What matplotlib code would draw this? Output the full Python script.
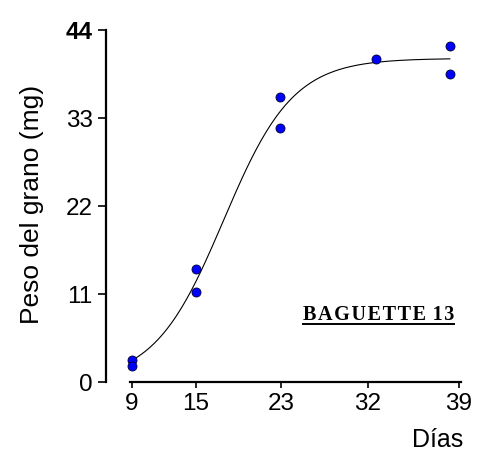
import numpy as np
import matplotlib
matplotlib.use('Agg')
import matplotlib.pyplot as plt
from matplotlib.lines import Line2D

# observed grain weights
dias = [9, 9, 15, 15, 23, 23, 32, 39, 39]
peso = [2.8, 2.0, 14.1, 11.2, 35.6, 31.8, 40.4, 42.0, 38.5]

x_ticks = [9, 15, 23.1, 31.25, 39.85]
x_labels = ['9', '15', '23', '32', '39']
y_ticks = [0, 11, 22, 33, 44]
y_labels = ['0', '11', '22', '33', '44']


def fit_logistic(x, y):
    # grid search on k and x0, A solved by least squares
    x = np.asarray(x, float)
    y = np.asarray(y, float)
    best = None
    for k in np.linspace(0.1, 0.8, 141):
        for x0 in np.linspace(12, 25, 261):
            f = 1.0 / (1.0 + np.exp(-k * (x - x0)))
            a = f.dot(y) / f.dot(f)
            sse = np.sum((y - a * f) ** 2)
            if best is None or sse < best[0]:
                best = (sse, a, k, x0)
    return best[1:]


a, k, x0 = fit_logistic(dias, peso)
xc = np.linspace(9, 39, 200)
yc = a / (1.0 + np.exp(-k * (xc - x0)))

plt.rcParams['font.family'] = ['Liberation Sans', 'DejaVu Sans']

fig = plt.figure(figsize=(4.78, 4.57), dpi=100)
ax = fig.add_axes([0.2218, 0.1641, 0.748, 0.779])

ax.plot(xc, yc, color='black', linewidth=0.8)
ax.plot(dias, peso, 'o', markersize=6.5, markerfacecolor='#0000ff',
        markeredgecolor='#000033', markeredgewidth=0.6, linestyle='none')

ax.set_xlim(6.55, 40.3)
ax.set_ylim(0, 44.5)
ax.spines['top'].set_visible(False)
ax.spines['right'].set_visible(False)
ax.spines['left'].set_linewidth(1.6)
ax.spines['bottom'].set_linewidth(1.6)
ax.spines['left'].set_bounds(0, 44)
ax.spines['bottom'].set_bounds(8.8, 40.1)

ax.set_xticks(x_ticks)
ax.set_xticklabels(x_labels)
ax.set_yticks(y_ticks)
ax.set_yticklabels(y_labels)
ax.get_yticklabels()[-1].set_fontweight('bold')
ax.tick_params(axis='both', direction='out', width=1.2, labelsize=17.5,
               colors='black')
ax.tick_params(axis='x', length=4, pad=4)
ax.tick_params(axis='y', length=5.5, pad=4)

ax.set_ylabel('Peso del grano (mg)', fontsize=19, labelpad=16)
ax.set_xlabel('Días', fontsize=18, loc='right', labelpad=9)

t = ax.text(39.4, 7.75, 'B\u200aA\u200aG\u200aU\u200aE\u200aT\u200aT\u200aE \u200a1\u200a3',
            ha='right', va='baseline', fontsize=14.5, fontweight='bold',
            family=['Liberation Serif', 'DejaVu Serif'])

fig.canvas.draw()
bb = t.get_window_extent(renderer=fig.canvas.get_renderer())
inv = fig.transFigure.inverted()
(x1, y1), (x2, y2) = inv.transform([(bb.x0, bb.y0), (bb.x1, bb.y0)])
fig.add_artist(Line2D([x1, x2], [y1 + 0.002, y2 + 0.002], color='black',
                      linewidth=1.4, transform=fig.transFigure))

fig.savefig('out.png', dpi=100)
